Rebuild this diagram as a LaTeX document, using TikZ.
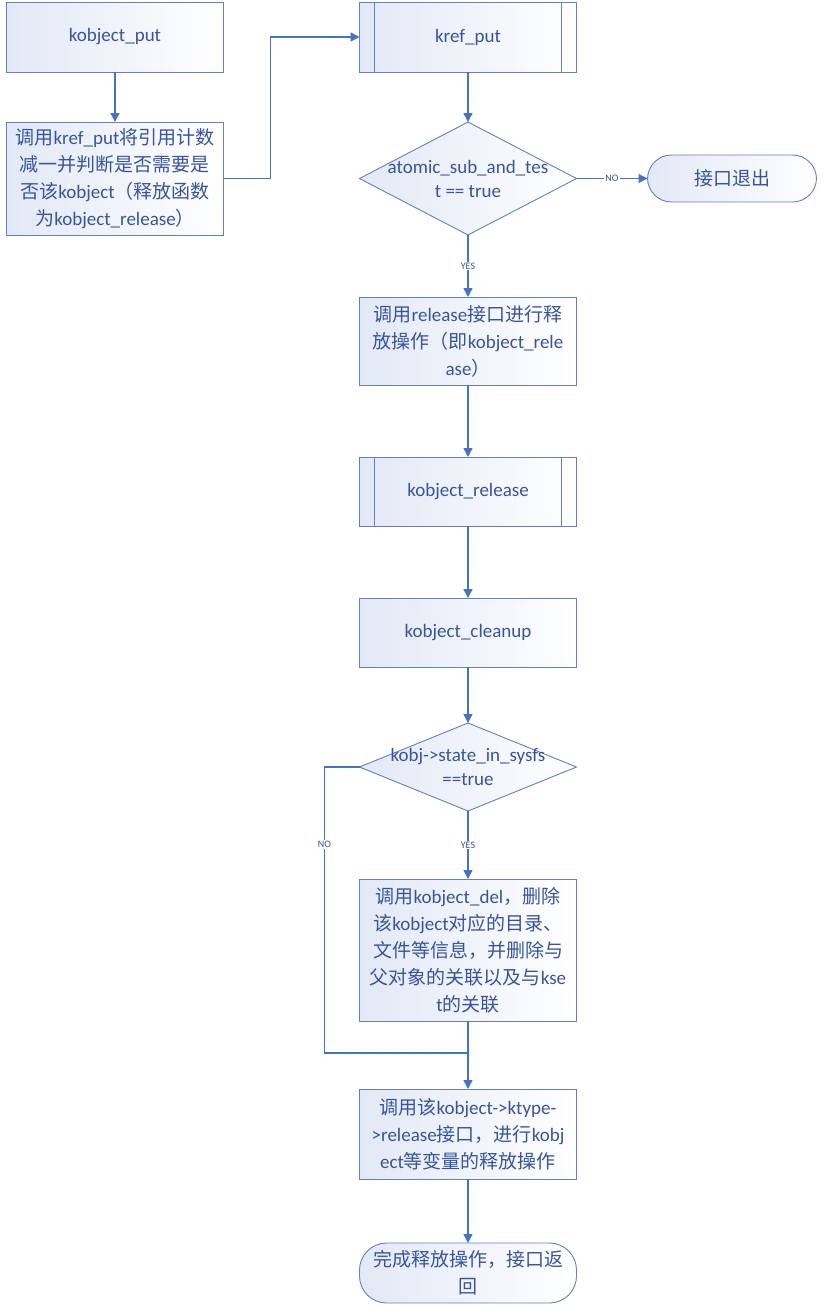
\documentclass[tikz,border=0pt]{standalone}
\usepackage{fontspec}
\setmainfont{Carlito}
\newfontfamily\cjkfont{Noto Sans CJK SC}
\newcommand\zh[1]{{\cjkfont #1}}
\usepackage{tikz}
\usetikzlibrary{shapes.geometric, arrows.meta, positioning}

\definecolor{flowline}{RGB}{68,114,196}
\definecolor{flowedge}{RGB}{98,128,194}
\definecolor{flowtext}{RGB}{55,85,155}
\definecolor{flowtint}{RGB}{226,232,245}

\tikzset{
	box/.style={draw=flowedge, line width=0.9pt, left color=flowtint, right color=white,
		minimum width=217pt, text=flowtext, align=center,
		inner sep=3pt, outer sep=0pt, font=\fontsize{19}{27}\selectfont},
	term/.style={box, rounded corners=24pt},
	decision/.style={box, diamond, inner sep=0pt, minimum height=113pt},
	dtext/.style={text=flowtext, align=center, font=\fontsize{19}{24}\selectfont},
	conn/.style={draw=flowline, line width=1.4pt, -{Triangle[length=9pt,width=9pt]}},
	plain/.style={draw=flowline, line width=1.4pt},
	yesno/.style={fill=white, inner sep=1pt, text=flowtext, font=\fontsize{10}{12}\selectfont}
}

\begin{document}
\begin{tikzpicture}[x=1pt, y=-1pt]
	\useasboundingbox (0,0) rectangle (823,1310);

	% left column
	\node[box, minimum height=70pt] (kput) at (115,37) {kobject\_put};
	\node[box, minimum height=113pt, below=50pt of kput] (kcall)
		{\zh{调用}kref\_put\zh{将引用计数}\\\zh{减一并判断是否需要是}\\\zh{否该}kobject\zh{（释放函数}\\\zh{为}kobject\_release\zh{）}};

	% main column
	\node[box, minimum height=70pt] (kref) at (468,37) {kref\_put};
	\draw[flowedge, line width=0.9pt] ([xshift=15pt]kref.north west) -- ([xshift=15pt]kref.south west)
		([xshift=-15pt]kref.north east) -- ([xshift=-15pt]kref.south east);
	\node[decision, below=50pt of kref] (chk) {};
	\node[dtext] (chktext) at (chk) {atomic\_sub\_and\_tes\\t == true};
	\node[term, minimum width=169pt, minimum height=47pt, right=71pt of chk] (exit) {\zh{接口退出}};
	\node[box, minimum height=88pt, below=62pt of chk] (rel)
		{\zh{调用}release\zh{接口进行释}\\\zh{放操作（即}kobject\_rele\\ase\zh{）}};
	\node[box, minimum height=69pt, below=72pt of rel] (krel) {kobject\_release};
	\draw[flowedge, line width=0.9pt] ([xshift=15pt]krel.north west) -- ([xshift=15pt]krel.south west)
		([xshift=-15pt]krel.north east) -- ([xshift=-15pt]krel.south east);
	\node[box, minimum height=69pt, below=72pt of krel] (clean) {kobject\_cleanup};
	\node[decision, minimum height=88pt, below=56pt of clean] (sysfs) {};
	\node[dtext] (sysfstext) at (sysfs) {kobj->state\_in\_sysfs\\==true};
	\node[box, minimum height=142pt, below=68pt of sysfs] (del)
		{\zh{调用}kobject\_del\zh{，删除}\\\zh{该}kobject\zh{对应的目录、}\\\zh{文件等信息，并删除与}\\\zh{父对象的关联以及与}kse\\t\zh{的关联}};
	\node[box, minimum height=90pt, below=68pt of del] (ktype)
		{\zh{调用该}kobject->ktype-\\>release\zh{接口，进行}kobj\\ect\zh{等变量的释放操作}};
	\node[term, minimum height=60pt, rounded corners=27pt, below=64pt of ktype] (done)
		{\zh{完成释放操作，接口返}\\\zh{回}};

	\coordinate (join) at ([yshift=-32pt]del.south);
	\coordinate (noturn) at ([xshift=-35pt]sysfs.west);

	% connectors
	\draw[conn] (kput) -- (kcall);
	\draw[conn] (kcall.east) -- ++(47,0) |- (kref.west);
	\draw[conn] (kref) -- (chk);
	\draw[conn] (chk) -- node[yesno] {NO} (exit);
	\draw[conn] (chk) -- node[yesno] {YES} (rel);
	\draw[conn] (rel) -- (krel);
	\draw[conn] (krel) -- (clean);
	\draw[conn] (clean) -- (sysfs);
	\draw[conn] (sysfs) -- node[yesno] {YES} (del);
	\draw[plain] (sysfs.west) -- (noturn) |- node[yesno, pos=0.135] {NO} (join);
	\draw[conn] (del) -- (ktype);
	\draw[conn] (ktype) -- (done);
\end{tikzpicture}
\end{document}
